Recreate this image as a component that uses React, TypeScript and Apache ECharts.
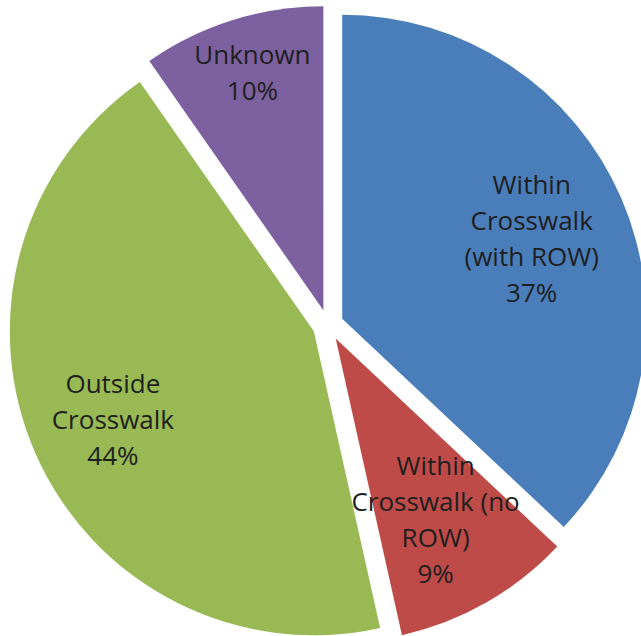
import React, { useEffect, useRef } from "react";
import * as echarts from "echarts";

const categories = [
  "Within\nCrosswalk\n(with ROW)",
  "Within\nCrosswalk (no\nROW)",
  "Outside\nCrosswalk",
  "Unknown",
];
const values = [37.0, 9.5, 43.8, 9.7];
const colors = ["#4A7EBB", "#BE4B48", "#98B954", "#7D60A0"];
const labelShift: [number, number][] = [
  [-3, 2],
  [-4, -2],
  [-9, 3],
  [-8, -38],
];

const CENTER: [number, number] = [328, 325];
const R = 304;
const EXPLODE = 15.5;

export default function App() {
  const ref = useRef<HTMLDivElement>(null);
  useEffect(() => {
    if (!ref.current) return;
    const chart = echarts.init(ref.current, null, { renderer: "svg" });
    const pieData = categories.map((name, i) => ({
      name,
      value: values[i],
      selected: true,
      itemStyle: { color: colors[i] },
      select: { itemStyle: { color: colors[i], borderWidth: 0 } },
    }));
    const labelData = categories.map((name, i) => ({
      name,
      value: values[i],
      selected: true,
      itemStyle: { color: "rgba(0,0,0,0)" },
      select: { itemStyle: { color: "rgba(0,0,0,0)", borderWidth: 0 } },
    }));
    chart.setOption({
      animation: false,
      backgroundColor: "#ffffff",
      series: [
        {
          type: "pie",
          center: CENTER,
          radius: [0, R],
          startAngle: 90,
          clockwise: true,
          selectedMode: "multiple",
          selectedOffset: EXPLODE,
          avoidLabelOverlap: false,
          silent: true,
          label: { show: false },
          labelLine: { show: false },
          emphasis: { disabled: true },
          itemStyle: { borderWidth: 0 },
          data: pieData,
        },
        {
          type: "pie",
          center: CENTER,
          radius: [R * 0.5, R * 0.86],
          startAngle: 90,
          clockwise: true,
          selectedMode: "multiple",
          selectedOffset: EXPLODE,
          avoidLabelOverlap: false,
          silent: true,
          z: 5,
          emphasis: { disabled: true },
          labelLine: { show: false },
          label: {
            show: true,
            position: "inside",
            formatter: (p: any) =>
              `${p.name}\n${p.dataIndex === 1 ? 9 : Math.round(p.value)}%`,
            color: "#1F1F1F",
            fontFamily: "Open Sans",
            fontSize: 26,
            lineHeight: 36,
            align: "center",
          },
          labelLayout: (p: any) => ({
            dx: labelShift[p.dataIndex][0],
            dy: labelShift[p.dataIndex][1],
          }),
          data: labelData,
        },
      ],
    });
    return () => chart.dispose();
  }, []);
  return (
    <div
      ref={ref}
      style={{ position: "fixed", left: 0, top: 0, width: 641, height: 636 }}
    />
  );
}
